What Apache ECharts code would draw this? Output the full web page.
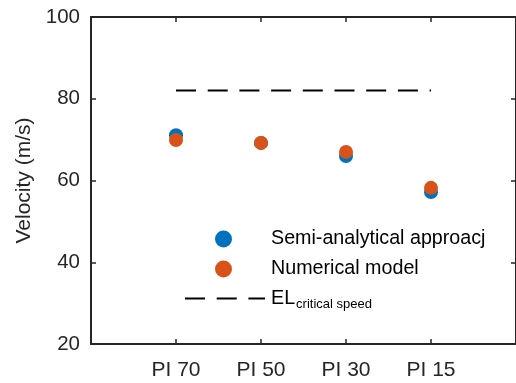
<!DOCTYPE html>
<html>
<head>
<meta charset="utf-8">
<script src="https://cdn.jsdelivr.net/npm/echarts@6/dist/echarts.min.js"></script>
<style>
  html, body { margin: 0; padding: 0; background: #fff; }
  #chart { width: 516px; height: 383px; }
</style>
</head>
<body>
<div id="chart"></div>
<script>
// Tick labels for the four specimens, placed at x = 1..4
const categories = ['PI 70', 'PI 50', 'PI 30', 'PI 15'];
const semiAnalytical = [71.1, 69.2, 66.0, 57.2];
const numericalModel = [69.9, 69.2, 67.0, 58.2];
const criticalSpeed = [82, 82, 82, 82];
const yTicks = [20, 40, 60, 80, 100];

const SEMI_NAME = 'Semi-analytical approacj';
const NUM_NAME = 'Numerical model';
const EL_NAME = 'EL';

const axisColor = '#262626';
const font = 'Arial, "Liberation Sans", Helvetica, sans-serif';

const xy = vals => vals.map((v, i) => [i + 1, v]);
const catPos = categories.map((c, i) => i + 1);

const chart = echarts.init(document.getElementById('chart'), null, { renderer: 'canvas' });

const tickStyle = { color: axisColor, width: 1.5 };
const baseX = {
  type: 'value', min: 0, max: 5, interval: 1,
  splitLine: { show: false },
  axisLine: { show: true, onZero: false, lineStyle: { color: axisColor, width: 2 } },
  axisTick: { show: true, inside: true, length: 5, lineStyle: tickStyle, customValues: catPos }
};
const baseY = {
  type: 'value', min: yTicks[0], max: yTicks[yTicks.length - 1], interval: 20,
  splitLine: { show: false },
  axisLine: { show: true, onZero: false, lineStyle: { color: axisColor, width: 2 } },
  axisTick: { show: true, inside: true, length: 5, lineStyle: tickStyle }
};

const legendText = { fontFamily: font, fontSize: 19.7, color: '#000', padding: [0, 0, 0, 34] };
function markerLegend(name, top) {
  return {
    data: [{ name: name, icon: 'circle' }],
    left: 215, top: top, padding: 0,
    itemWidth: 17, itemHeight: 17, itemGap: 0,
    textStyle: legendText
  };
}

chart.setOption({
  animation: false,
  backgroundColor: '#fff',
  grid: { left: 91, top: 17, width: 428, height: 327, containLabel: false },
  xAxis: [
    Object.assign({}, baseX, {
      position: 'bottom',
      axisLabel: {
        show: true, margin: 16, fontFamily: font, fontSize: 21, color: axisColor,
        customValues: catPos,
        formatter: v => categories[Math.round(v) - 1] || ''
      }
    }),
    Object.assign({}, baseX, { position: 'top', axisLabel: { show: false } })
  ],
  yAxis: [
    Object.assign({}, baseY, {
      position: 'left',
      name: 'Velocity (m/s)', nameLocation: 'middle', nameGap: 55,
      nameTextStyle: { fontFamily: font, fontSize: 21, color: axisColor },
      axisLabel: { show: true, margin: 11, fontFamily: font, fontSize: 20.5, color: axisColor }
    }),
    Object.assign({}, baseY, { position: 'right', axisLabel: { show: false } })
  ],
  legend: [
    markerLegend(SEMI_NAME, 229),
    markerLegend(NUM_NAME, 259),
    {
      data: [EL_NAME],
      left: 184, top: 286, padding: 0,
      itemWidth: 80, itemHeight: 14, itemGap: 0,
      itemStyle: { opacity: 0 },
      lineStyle: { opacity: 1 },
      textStyle: {
        fontFamily: font, fontSize: 19.7, color: '#000', padding: [0, 0, 0, 1],
        rich: {
          a: { fontFamily: font, fontSize: 19.7, color: '#000', lineHeight: 22 },
          b: { fontFamily: font, fontSize: 13, color: '#000', padding: [12, 0, 0, 1], lineHeight: 22 }
        }
      },
      formatter: () => '{a|EL}{b|critical speed}'
    }
  ],
  series: [
    {
      name: EL_NAME, type: 'line', data: xy(criticalSpeed),
      symbol: 'none', z: 1,
      lineStyle: { color: '#000', width: 2, type: [20, 11.7] },
      itemStyle: { color: '#000' }
    },
    {
      name: SEMI_NAME, type: 'scatter', data: xy(semiAnalytical),
      symbol: 'circle', symbolSize: 14, z: 2,
      itemStyle: { color: '#0072BD', opacity: 1 }
    },
    {
      name: NUM_NAME, type: 'scatter', data: xy(numericalModel),
      symbol: 'circle', symbolSize: 14, z: 3,
      itemStyle: { color: '#D95319', opacity: 1 }
    }
  ]
});
</script>
</body>
</html>
